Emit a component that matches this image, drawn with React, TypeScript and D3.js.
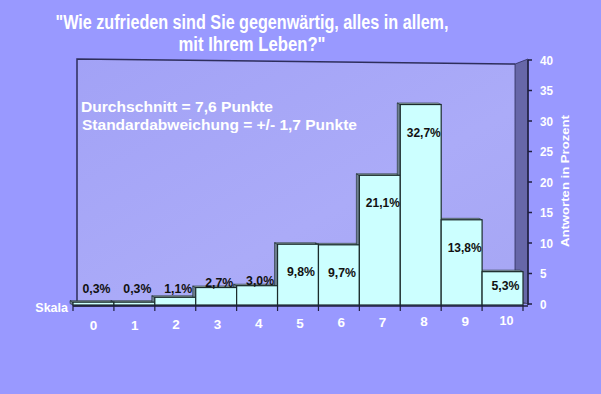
import React from 'react';
import * as d3 from 'd3';

const categories = ['0', '1', '2', '3', '4', '5', '6', '7', '8', '9', '10'];
const values = [0.3, 0.3, 1.1, 2.7, 3.0, 9.8, 9.7, 21.1, 32.7, 13.8, 5.3];
const valueLabels = ['0,3%', '0,3%', '1,1%', '2,7%', '3,0%', '9,8%', '9,7%', '21,1%', '32,7%', '13,8%', '5,3%'];
const yTicks = [0, 5, 10, 15, 20, 25, 30, 35, 40];
const titleLines = ['"Wie zufrieden sind Sie gegenwärtig, alles in allem,', 'mit Ihrem Leben?"'];
const noteLines = ['Durchschnitt = 7,6 Punkte', 'Standardabweichung = +/- 1,7 Punkte'];

const W = 601;
const H = 394;
const FONT = '"Liberation Sans", Arial, sans-serif';

const App: React.FC = () => {
  const x = d3.scaleBand<string>().domain(categories).range([73, 523]).padding(0);
  const y = d3.scaleLinear().domain([0, 40]).range([304, 60]);
  // x labels drift up a little towards the right (perspective)
  const labelY = d3.scaleLinear().domain([0, categories.length - 1]).range([330, 325]);

  const base = 305;
  const dx = -3;
  const dy = -1.5;
  const bw = x.bandwidth();

  const wallLeft = 77;
  const wallRight = 515;
  const axisX = 528;

  const pts = (p: [number, number][]) => p.map(q => q.join(',')).join(' ');

  return (
    <div style={{ position: 'fixed', left: 0, top: 0, width: W, height: H }}>
      <svg width={W} height={H} style={{ display: 'block' }}>
        <defs>
          <linearGradient id="wall" x1="0" y1="0" x2="1" y2="1">
            <stop offset="0%" stopColor="#A2A2F6" />
            <stop offset="60%" stopColor="#ABABF8" />
            <stop offset="100%" stopColor="#A6A6F4" />
          </linearGradient>
        </defs>
        <rect x={0} y={0} width={W} height={H} fill="#9999FF" />

        {/* title */}
        {titleLines.map((t, i) => (
          <text key={i} x={252} y={29 + i * 22} textAnchor="middle" fill="#fff"
            fontFamily={FONT} fontWeight="bold" fontSize={19.5}
            textLength={i === 0 ? 393 : 147} lengthAdjust="spacingAndGlyphs">{t}</text>
        ))}

        {/* back wall */}
        <polygon points={pts([[wallLeft, 59], [wallRight, 64], [wallRight, 300], [wallLeft, 303]])}
          fill="url(#wall)" />
        <polyline points={pts([[wallLeft, 303], [wallLeft, 59], [wallRight, 64]])}
          fill="none" stroke="#2E2E5C" strokeWidth={1.5} />
        {/* side wall */}
        <polygon points={pts([[wallRight, 64], [axisX, 59], [axisX, 304], [wallRight, 300]])}
          fill="#6767A8" stroke="#2E2E5C" strokeWidth={0.8} />
        {/* floor */}
        <polygon points={pts([[73, 307], [wallLeft, 303], [wallRight, 300], [axisX, 304]])}
          fill="#55557A" />

        {/* annotation */}
        {noteLines.map((t, i) => (
          <text key={i} x={81 + i} y={112 + i * 18} fill="#fff" fontFamily={FONT}
            fontWeight="bold" fontSize={14.5} textLength={i === 0 ? 192 : 275}
            lengthAdjust="spacingAndGlyphs">{t}</text>
        ))}

        {/* y axis on the right */}
        <line x1={axisX} x2={axisX} y1={y(40)} y2={base} stroke="#1E1E3C" strokeWidth={1.5} />
        {yTicks.map(t => (
          <g key={t}>
            <line x1={axisX} x2={axisX + 4} y1={y(t)} y2={y(t)} stroke="#1E1E3C" strokeWidth={1.5} />
            <text x={540} y={y(t) + 4.5} fill="#fff" fontFamily={FONT} fontWeight="bold" fontSize={12.5}
              textLength={t < 10 ? 6.5 : 13} lengthAdjust="spacingAndGlyphs">{t}</text>
          </g>
        ))}
        <text transform={`translate(569,181) rotate(-90)`} textAnchor="middle" fill="#fff"
          fontFamily={FONT} fontWeight="bold" fontSize={11.5} textLength={132}
          lengthAdjust="spacingAndGlyphs">Antworten in Prozent</text>

        {/* bar depth faces */}
        {categories.map((c, i) => {
          const x0 = x(c)!;
          const top = y(values[i]);
          return (
            <g key={c}>
              <polygon points={pts([[x0, base], [x0, top], [x0 + dx, top + dy], [x0 + dx, base + dy]])}
                fill="#6F8090" stroke="#1B2B2B" strokeWidth={0.6} />
              <polygon points={pts([[x0, top], [x0 + dx, top + dy], [x0 + bw + dx, top + dy], [x0 + bw, top]])}
                fill="#9FB8B8" stroke="#1B2B2B" strokeWidth={0.6} />
            </g>
          );
        })}
        {/* bar fronts */}
        {categories.map((c, i) => (
          <rect key={c} x={x(c)!} y={y(values[i])} width={bw} height={base - y(values[i])}
            fill="#CCFFFF" stroke="#1B2B2B" strokeWidth={1.2} />
        ))}

        {/* x axis */}
        <line x1={73} x2={axisX} y1={base + 1} y2={base + 1} stroke="#1E1E3C" strokeWidth={1.5} />
        {categories.map(c => (
          <line key={c} x1={x(c)!} x2={x(c)!} y1={base} y2={base + 6} stroke="#1E1E3C" strokeWidth={1.2} />
        ))}
        <line x1={523} x2={523} y1={base} y2={base + 6} stroke="#1E1E3C" strokeWidth={1.2} />
        <text x={68} y={312} textAnchor="end" fill="#fff" fontFamily={FONT} fontWeight="bold" fontSize={12.5}>Skala</text>
        {categories.map((c, i) => (
          <text key={c} x={x(c)! + bw / 2 + i * 0.4} y={labelY(i)} textAnchor="middle" fill="#fff"
            fontFamily={FONT} fontWeight="bold" fontSize={13.5}
            textLength={c.length > 1 ? 14 : 7.5} lengthAdjust="spacingAndGlyphs">{c}</text>
        ))}

        {/* value labels */}
        {categories.map((c, i) => {
          const top = y(values[i]);
          const ly = values[i] < 5 ? Math.min(top - 1, 293) : Math.min(top + 32, 290);
          return (
            <text key={c} x={x(c)! + bw / 2 + 3} y={ly} textAnchor="middle" fill="#111"
              fontFamily={FONT} fontWeight="bold" fontSize={13.5}
              textLength={valueLabels[i].length > 4 ? 34 : 28} lengthAdjust="spacingAndGlyphs">{valueLabels[i]}</text>
          );
        })}
      </svg>
    </div>
  );
};

export default App;
